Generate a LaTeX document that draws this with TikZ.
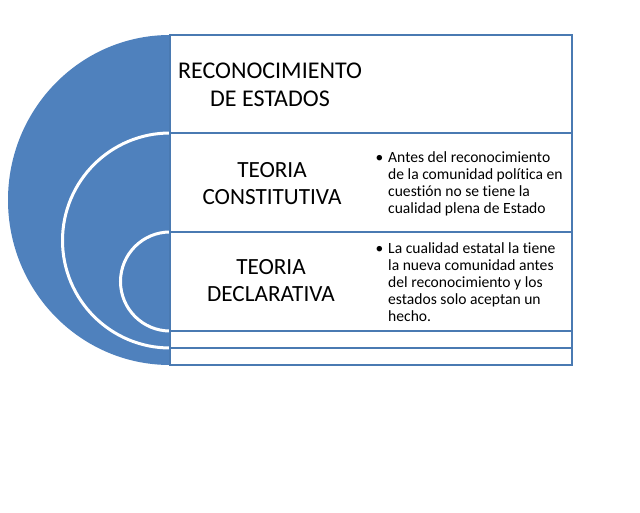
\documentclass[tikz,border=0pt]{standalone}
\usepackage{fontspec}
\setmainfont[Ligatures=NoCommon]{Carlito}
\definecolor{fillblue}{HTML}{4F81BD}
\definecolor{lineblue}{HTML}{4A7AB2}
\begin{document}
\begin{tikzpicture}[x=1pt,y=1pt,
  rowbox/.style={draw=lineblue, line width=2.5pt, fill=white, minimum width=402pt, anchor=north west, inner sep=0pt, outer sep=0pt},
  titletext/.style={font=\fontsize{24}{28.5}\selectfont, align=center, inner sep=0pt},
  subtext/.style={font=\fontsize{23.2}{27}\selectfont, align=center, inner sep=0pt},
  bultext/.style={font=\fontsize{15.6}{17}\selectfont, align=left, anchor=west, inner sep=0pt},
  bulmark/.style={font=\fontsize{15.5}{17}\selectfont, anchor=base, inner sep=0pt},
  arcline/.style={draw=white, line width=3pt}]
\useasboundingbox[fill=white] (0,0) rectangle (640,512);
% blue half disc and white arcs
\fill[fillblue] (170,147) arc[start angle=-90, end angle=-270, x radius=162, y radius=165] -- cycle;
\draw[arcline] (170,164) arc[start angle=-90, end angle=-270, radius=107.5];
\draw[arcline] (170,181) arc[start angle=-90, end angle=-270, radius=49.5];
% rows
\node[rowbox, minimum height=98pt] (r1) at (170,477) {};
\node[rowbox, minimum height=99pt] (r2) at (170,379) {};
\node[rowbox, minimum height=99pt] (r3) at (170,280) {};
\node[rowbox, minimum height=17pt] (r4) at (170,181) {};
\node[rowbox, minimum height=17pt] (r5) at (170,164) {};
% titles
\node[titletext] (t1) at (270,427) {RECONOCIMIENTO\\DE ESTADOS};
\node[subtext] (t2) at (272,328.5) {TEORIA\\CONSTITUTIVA};
\node[subtext] (t3) at (271,231) {TEORIA\\DECLARATIVA};
% bullets
\node[bulmark] (b2) at (379.5,349.3) {•};
\node[bultext] (x2) at (388,327.8) {Antes del reconocimiento\\de la comunidad política en\\cuestión no se tiene la\\cualidad plena de Estado};
\node[bulmark] (b3) at (379.5,258) {•};
\node[bultext] (x3) at (388,229.4) {La cualidad estatal la tiene\\la nueva comunidad antes\\del reconocimiento y los\\estados solo aceptan un\\hecho.};
\end{tikzpicture}
\end{document}
